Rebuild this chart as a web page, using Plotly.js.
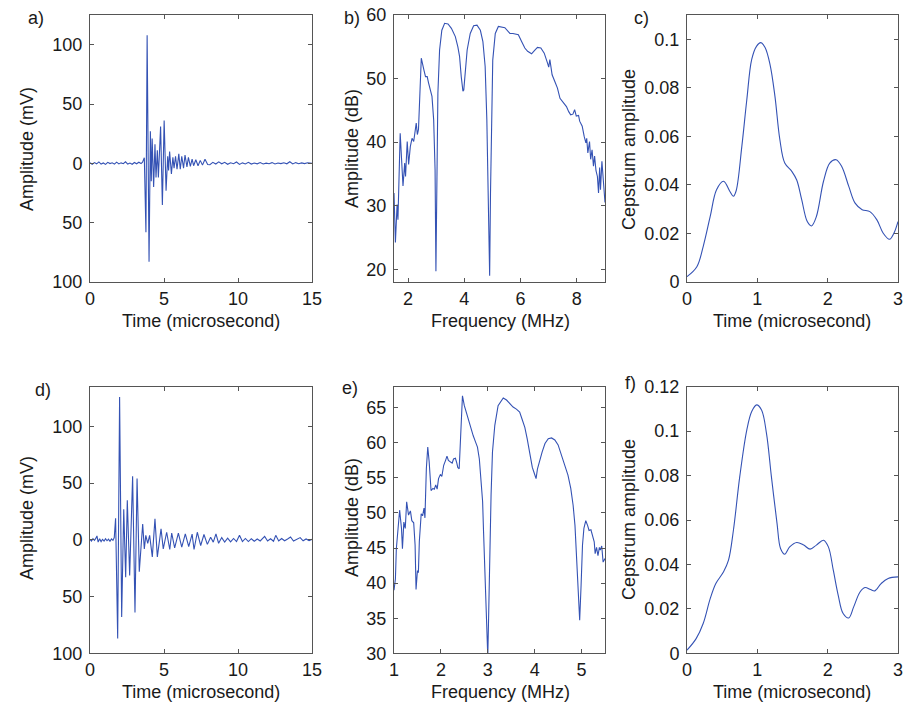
<!DOCTYPE html>
<html>
<head>
<meta charset="utf-8">
<script src="https://cdn.plot.ly/plotly-3.0.1.min.js"></script>
<style>html,body{margin:0;padding:0;background:#fff;}#chart{width:923px;height:714px;}</style>
</head>
<body>
<div id="chart"></div>
<script>
// ---- Panel a: waveform (time in microseconds, amplitude in mV) ----
const timeA = [0,0.15,0.3,0.45,0.6,0.75,0.9,1.05,1.2,1.35,1.5,1.65,1.8,1.95,2.1,2.25,2.4,2.55,2.7,2.85,3.0,3.15,3.3,3.45,3.55,
  3.67,3.78,3.86,3.99,4.08,4.14,4.2,4.3,4.39,4.46,4.55,4.62,4.77,4.89,5.01,5.14,5.25,5.31,5.38,5.5,5.6,5.68,5.78,5.88,6.0,6.1,6.2,6.32,6.42,6.55,6.65,6.78,6.9,7.0,7.15,7.3,7.45,7.6,7.77,7.95,
  8.1,8.3,8.5,8.7,8.9,9.1,9.3,9.5,9.7,9.9,10.1,10.3,10.5,10.7,10.9,11.1,11.3,11.5,11.7,11.9,12.1,12.3,12.5,12.7,12.9,13.1,13.3,13.5,13.7,13.9,14.1,14.3,14.5,14.7,15];
const ampA = [0.5,-0.8,0.6,-0.4,1.2,-0.6,0.3,-0.9,0.8,-0.2,0.5,-0.7,1.0,-0.5,0.4,-0.3,1.3,-0.6,0.2,-0.8,0.7,-0.4,0.9,-0.2,1.0,
  4.8,-58,108,-83,27,-15,21,-20,16,-12,11,-12,31,-35,36,-23,6,-6,10,-9,5,-4,6,-5,8,-5,6,-4,7,-3,5,-2.5,3.5,-2,3,-2,2.5,-1.5,3.4,-1,
  -1.2,0.8,-0.6,1.2,-0.4,0.9,-0.8,0.5,-0.3,1.1,-0.9,0.4,-0.5,0.9,-0.6,0.3,-0.4,0.7,-0.5,0.2,-0.3,0.6,-0.5,0.3,-0.2,0.5,-0.4,1.3,-0.5,0.6,-0.3,0.4,-0.2,0.5,0];

// ---- Panel b: spectrum (MHz, dB) ----
const freqB = [1.5,1.55,1.61,1.64,1.72,1.82,1.88,1.91,1.97,2.02,2.08,2.14,2.2,2.29,2.33,2.37,2.47,2.51,2.56,2.62,2.68,2.73,2.8,2.85,2.91,2.96,2.99,3.03,3.06,3.12,3.2,3.3,3.42,3.54,3.68,3.77,3.83,3.89,3.95,3.98,4.02,4.1,4.21,4.33,4.45,4.57,4.66,4.74,4.8,4.86,4.9,4.93,4.97,5.01,5.1,5.21,5.44,5.62,5.73,5.92,6.04,6.15,6.25,6.39,6.49,6.6,6.72,6.84,6.96,7.0,7.04,7.12,7.22,7.31,7.4,7.49,7.55,7.63,7.71,7.78,7.86,7.92,7.98,8.06,8.1,8.19,8.26,8.32,8.35,8.39,8.45,8.49,8.54,8.59,8.63,8.68,8.73,8.77,8.81,8.84,8.89,8.94,9.0];
const dbB = [32,24.2,30.2,27.8,41.4,33.1,36.7,34.6,40.1,36.5,39.3,40.6,40.1,43,41.2,42,53.2,52.2,51.4,50.3,50.3,49.3,48.2,47.2,43.5,35.7,19.7,34.6,47.7,54.5,57.6,58.7,58.6,57.9,56.6,55,53.5,50.3,48,48.2,50.9,54.5,57.1,58.3,58.4,57.6,55.8,51.9,43.5,29.4,19,32,45.1,52.9,57.1,58.2,58,57.1,57.1,56.9,55.8,54.8,54.3,53.9,54.4,54.9,54.8,54,52.4,51.8,53,50.6,49.5,48.5,46.9,46.4,45.9,45.6,44.8,44.3,44.4,45.1,44.1,44.2,43.3,42.5,40.9,39.9,40.6,38.3,40.1,37.3,38.8,36.2,37.8,35.5,34.6,32,36,32.5,37,34.6,30.5];

// ---- Panel c: cepstrum (microseconds, amplitude) ----
const timeC = [0,0.14,0.23,0.33,0.42,0.52,0.61,0.66,0.7,0.78,0.85,0.92,0.99,1.05,1.11,1.18,1.25,1.32,1.39,1.49,1.56,1.63,1.71,1.77,1.84,1.94,2.03,2.12,2.2,2.3,2.39,2.49,2.6,2.7,2.79,2.88,2.94,3.0];
const cepC = [0.0022,0.0063,0.0146,0.027,0.038,0.0415,0.0373,0.0353,0.0377,0.056,0.075,0.0917,0.0972,0.0986,0.0966,0.0897,0.0766,0.0587,0.049,0.0456,0.042,0.034,0.0249,0.0231,0.027,0.0414,0.049,0.0504,0.0476,0.0394,0.0325,0.0298,0.029,0.0256,0.0201,0.0176,0.02,0.0249];

// ---- Panel d: waveform ----
const timeD = [0,0.1,0.2,0.3,0.4,0.47,0.55,0.65,0.75,0.85,0.95,1.05,1.15,1.25,1.35,1.45,1.55,1.64,
  1.73,1.87,2.0,2.14,2.28,2.41,2.52,2.68,2.88,3.04,3.18,3.33,3.56,3.67,3.77,3.9,4.03,4.21,4.39,4.55,4.8,4.95,5.18,5.39,5.52,5.72,5.97,6.2,6.44,6.67,6.9,7.03,7.25,7.48,7.7,7.93,8.15,8.33,8.51,8.69,
  8.9,9.1,9.3,9.5,9.7,9.9,10.1,10.3,10.5,10.7,10.9,11.1,11.3,11.5,11.8,12.0,12.2,12.4,12.55,12.75,12.95,13.15,13.35,13.55,13.75,13.95,14.2,14.4,14.6,14.8,15];
const ampD = [0.5,-1,1,-0.5,1.5,3.5,-2,1,-1.5,0.5,-1,1,-0.8,0.6,-1.2,0.8,-0.5,2,
  19,-87,126,-68,27,-33,35,-31.5,56,-64,54,-28,14,-8,4,-3,4,-15,18.5,-15,9.7,-8,6.7,-8.5,6,-7,6,-6.5,5.3,-6,5,-8.5,6.7,-5,4.7,-4,2.3,-2,5.3,-3,
  2,-2,1.5,-1.8,1.2,-1.5,4,-1.5,1.2,-1.5,1,-1.2,0.8,-1,3,-1,1,-1.2,4,-1,1.2,-0.8,0.8,2.5,-1,0.6,2,-0.8,0.8,-0.6,0.5];

// ---- Panel e: spectrum ----
const freqE = [1.0,1.03,1.05,1.08,1.12,1.16,1.18,1.21,1.24,1.27,1.31,1.35,1.38,1.42,1.45,1.47,1.5,1.52,1.54,1.58,1.61,1.64,1.66,1.69,1.72,1.75,1.79,1.83,1.86,1.89,1.92,1.95,1.99,2.02,2.06,2.1,2.13,2.16,2.21,2.24,2.27,2.31,2.34,2.36,2.39,2.42,2.46,2.5,2.54,2.59,2.64,2.69,2.74,2.78,2.82,2.85,2.89,2.91,2.94,2.96,3.0,3.02,3.04,3.07,3.1,3.15,3.22,3.33,3.4,3.54,3.61,3.68,3.73,3.79,3.84,3.9,3.95,3.99,4.03,4.06,4.11,4.16,4.22,4.29,4.36,4.43,4.5,4.57,4.64,4.71,4.77,4.82,4.86,4.89,4.93,4.96,4.99,5.02,5.05,5.09,5.13,5.16,5.2,5.23,5.27,5.29,5.32,5.35,5.38,5.4,5.43,5.46,5.5];
const dbE = [39,40.6,44.9,47.3,50.4,47.8,44.9,48.7,47.8,51.6,49.7,50.3,48.9,48.6,45.4,39.1,41.8,41.5,45.9,49.9,49.6,50.7,49.3,56.3,59.4,57.3,53.2,53.5,53.4,54,53.4,54.9,55.5,55.2,56.8,57.5,58.1,57.5,57.2,57.1,57.7,57.8,57.1,56.5,56.3,61.5,66.7,65.3,64.4,63,62,61,60.1,59.4,57.7,55.4,51.6,47.3,41.6,34.9,29.5,35.9,43.5,52.5,58.7,62.5,65.3,66.4,66.1,65.1,64.8,64.4,63.4,62.2,60.6,58.2,56.5,55.7,54.9,56.3,57.7,58.7,59.9,60.6,60.7,60.4,59.7,58.2,56.8,55.4,53.5,51.1,48.2,43.5,38.7,34.7,39.7,45.4,47.8,48.9,48.2,47.5,47.6,46.8,45.9,44.2,45.1,43.9,45.1,44.7,45.3,43,43.5];

// ---- Panel f: cepstrum ----
const timeF = [0,0.13,0.23,0.33,0.41,0.52,0.59,0.66,0.75,0.85,0.92,0.99,1.06,1.13,1.2,1.28,1.33,1.39,1.46,1.56,1.66,1.75,1.84,1.94,2.01,2.08,2.15,2.22,2.3,2.37,2.46,2.53,2.61,2.67,2.76,2.86,3.0];
const cepF = [0.0014,0.0066,0.0134,0.0246,0.0314,0.0367,0.0419,0.0554,0.0795,0.1005,0.1088,0.1118,0.1095,0.099,0.0795,0.0585,0.0472,0.0446,0.0479,0.0499,0.0487,0.0469,0.0487,0.0509,0.0479,0.0374,0.0261,0.0179,0.0159,0.0209,0.0276,0.0296,0.0287,0.0281,0.0314,0.0337,0.0344];

// Tick labels as printed in the figure
const ampTickVals = [-100,-50,0,50,100];
const ampTickText = ['100','50','0','50','100'];
const timeTicks = [0,5,10,15];
const cepTicks = [0,1,2,3];

const W = 923, H = 714;
const LINE = '#3452b4';
const AXC = '#555555';
const FONT = {family: 'Liberation Sans, Arial, sans-serif', size: 18, color: '#1a1a1a'};

function trace(x, y, xa, ya, smooth) {
  const line = {color: LINE, width: 1.1};
  if (smooth) { line.shape = 'spline'; line.smoothing = 1; }
  return {x: x, y: y, xaxis: xa, yaxis: ya, type: 'scatter', mode: 'lines',
          line: line, hoverinfo: 'skip', showlegend: false};
}
const data = [
  trace(timeA, ampA, 'x', 'y'),
  trace(freqB, dbB, 'x2', 'y2'),
  trace(timeC, cepC, 'x3', 'y3', true),
  trace(timeD, ampD, 'x4', 'y4'),
  trace(freqE, dbE, 'x5', 'y5'),
  trace(timeF, cepF, 'x6', 'y6', true)
];

const col = [[90/W, 312/W], [394/W, 605/W], [687/W, 898/W]];
const row = [[1-282/H, 1-15/H], [1-653.3/H, 1-386.7/H]];

function ax(extra) {
  return Object.assign({
    showline: true, mirror: 'ticks', linecolor: AXC, linewidth: 1,
    ticks: 'inside', ticklen: 4, tickcolor: AXC, tickwidth: 1,
    showgrid: false, zeroline: false, fixedrange: true,
    tickfont: FONT, ticklabelstandoff: 3
  }, extra);
}
function xax(extra) { return ax(Object.assign({ticklabelstandoff: 0}, extra)); }

const layout = {
  width: W, height: H,
  margin: {l: 0, r: 0, t: 0, b: 0},
  paper_bgcolor: '#fff', plot_bgcolor: '#fff',
  font: FONT,
  showlegend: false,
  xaxis:  xax({domain: col[0], anchor: 'y',  range: [0, 15], tickvals: timeTicks}),
  yaxis:  ax({domain: row[0], anchor: 'x',  range: [-100, 125], tickvals: ampTickVals, ticktext: ampTickText}),
  xaxis2: xax({domain: col[1], anchor: 'y2', range: [1.5, 9], tickvals: [2,4,6,8]}),
  yaxis2: ax({domain: row[0], anchor: 'x2', range: [18, 60], tickvals: [20,30,40,50,60]}),
  xaxis3: xax({domain: col[2], anchor: 'y3', range: [0, 3], tickvals: cepTicks}),
  yaxis3: ax({domain: row[0], anchor: 'x3', range: [0, 0.11], tickvals: [0,0.02,0.04,0.06,0.08,0.1], ticktext: ['0','0.02','0.04','0.06','0.08','0.1']}),
  xaxis4: xax({domain: col[0], anchor: 'y4', range: [0, 15], tickvals: timeTicks}),
  yaxis4: ax({domain: row[1], anchor: 'x4', range: [-100, 135], tickvals: ampTickVals, ticktext: ampTickText}),
  xaxis5: xax({domain: col[1], anchor: 'y5', range: [1, 5.5], tickvals: [1,2,3,4,5]}),
  yaxis5: ax({domain: row[1], anchor: 'x5', range: [30, 68], tickvals: [30,35,40,45,50,55,60,65]}),
  xaxis6: xax({domain: col[2], anchor: 'y6', range: [0, 3], tickvals: cepTicks}),
  yaxis6: ax({domain: row[1], anchor: 'x6', range: [0, 0.12], tickvals: [0,0.02,0.04,0.06,0.08,0.1,0.12], ticktext: ['0','0.02','0.04','0.06','0.08','0.1','0.12']}),
  annotations: []
};

function ann(text, px, py, angle) {
  layout.annotations.push({text: text, xref: 'paper', yref: 'paper', x: px/W, y: 1-py/H,
    xanchor: 'center', yanchor: 'middle', showarrow: false, textangle: angle || 0, font: FONT});
}
// panel letters
ann('a)', 36, 18); ann('b)', 352, 18); ann('c)', 641, 18);
ann('d)', 43, 390); ann('e)', 350, 388); ann('f)', 630, 383);
// x axis titles
ann('Time (microsecond)', 201, 321); ann('Frequency (MHz)', 500, 321); ann('Time (microsecond)', 792, 321);
ann('Time (microsecond)', 201, 692); ann('Frequency (MHz)', 500, 692); ann('Time (microsecond)', 792, 692);
// y axis titles
ann('Amplitude (mV)', 27, 149, -90); ann('Amplitude (dB)', 352, 149, -90); ann('Cepstrum amplitude', 629, 150, -90);
ann('Amplitude (mV)', 27, 518, -90); ann('Amplitude (dB)', 352, 518, -90); ann('Cepstrum amplitude', 629, 520, -90);

Plotly.newPlot('chart', data, layout, {staticPlot: true, displayModeBar: false});
</script>
</body>
</html>
